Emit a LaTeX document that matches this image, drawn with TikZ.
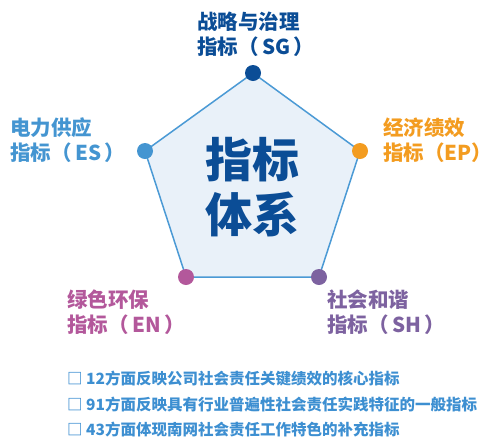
\documentclass[tikz,border=0pt]{standalone}
\usepackage{fontspec}
\setmainfont{Noto Sans CJK SC}
\newfontfamily\cjk{Noto Sans CJK SC}
\usepackage{xcolor}
\usepackage{tikz}

\definecolor{sgblue}{HTML}{0B4D96}
\definecolor{esblue}{HTML}{4495D1}
\definecolor{eporange}{HTML}{F39C20}
\definecolor{enpink}{HTML}{B3589B}
\definecolor{shpurple}{HTML}{7D62A0}
\definecolor{penline}{HTML}{4B9AD5}
\definecolor{penfill}{HTML}{E9F1F9}
\definecolor{listblue}{HTML}{3D8FD1}

\begin{document}
\begin{tikzpicture}[x=1pt,y=-1pt,
        dot/.style={circle,inner sep=0pt,minimum size=16pt},
        lab/.style={anchor=west,align=left,inner sep=0pt,font=\cjk\bfseries\fontsize{20.5}{25}\selectfont},
        item/.style={anchor=west,inner sep=0pt,text=listblue,font=\cjk\bfseries\fontsize{15.5}{18}\selectfont}]

                \useasboundingbox (0,0) rectangle (492,437);

                \coordinate (sg) at (253,73);
                \coordinate (ep) at (360,151);
                \coordinate (sh) at (319,277);
                \coordinate (en) at (186,277);
                \coordinate (es) at (145,151);
                \draw[penline,line width=1.5pt,fill=penfill] (sg)--(ep)--(sh)--(en)--(es)--cycle;

                \node[dot,fill=sgblue] (sgdot) at (sg){};
                \node[dot,fill=eporange] (epdot) at (ep){};
                \node[dot,fill=shpurple] (shdot) at (sh){};
                \node[dot,fill=enpink] (endot) at (en){};
                \node[dot,fill=esblue] (esdot) at (es){};

                \node[align=center,inner sep=0pt,text=sgblue,font=\cjk\bfseries\fontsize{47}{55}\selectfont] (core) at (252,187){指标\\体系};

                \node[lab,text=sgblue] (sglab) at (197,34.5){战略与治理\\指标（\,SG\,）};
                \node[lab,text=esblue] (eslab) at (10,140.5){电力供应\\指标（\,ES\,）};
                \node[lab,text=eporange] (eplab) at (383,140.5){经济绩效\\指标（EP）};
                \node[lab,text=enpink] (enlab) at (67,312.5){绿色环保\\指标（\,EN\,）};
                \node[lab,text=shpurple] (shlab) at (327,312.5){社会和谐\\指标（\,SH\,）};

                \node[item] (l1) at (67,379){□ 12方面反映公司社会责任关键绩效的核心指标};
                \node[item] (l2) at (67,405){□ 91方面反映具有行业普遍性社会责任实践特征的一般指标};
                \node[item] (l3) at (67,430){□ 43方面体现南网社会责任工作特色的补充指标};

\end{tikzpicture}
\end{document}
